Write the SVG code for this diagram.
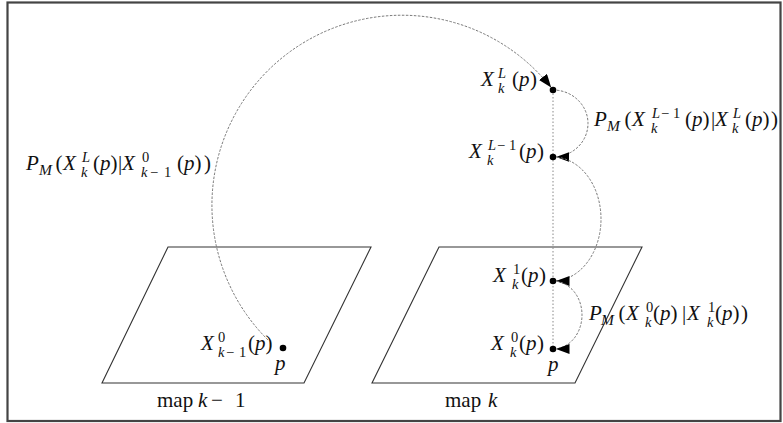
<svg xmlns="http://www.w3.org/2000/svg" width="783" height="423" viewBox="0 0 783 423">
<style>
.frame{fill:none;stroke:#444;stroke-width:2.2}
.map{fill:none;stroke:#333;stroke-width:1.1}
.arc{fill:none;stroke:#777;stroke-width:1;stroke-dasharray:2.5 1.5}
.vline{fill:none;stroke:#888;stroke-width:1;stroke-dasharray:1.5 2}
.dot{fill:#000}
.t{font-family:"Liberation Serif","Times New Roman","DejaVu Serif",serif;font-size:21px;fill:#111}
.i{font-style:italic}
.s{font-size:14.5px}
.m{font-size:15.5px;font-style:italic}
</style>
<defs>
<marker id="ah" viewBox="0 0 17 10" refX="16.5" refY="5" markerWidth="17" markerHeight="10" markerUnits="userSpaceOnUse" orient="auto">
<path d="M0,0 L13.5,5 L0,10 z" fill="#000"/>
</marker>
</defs>
<rect class="frame" x="7.5" y="2.5" width="773" height="418.5"/>

<g id="map-k-1">
<polygon class="map" points="168,247 371,247 304,383 102,383"/>
<text class="t"><tspan x="157" y="407">map </tspan><tspan class="i" x="198" y="407">k</tspan><tspan x="211" y="407">−</tspan><tspan x="235" y="407">1</tspan></text>
</g>
<g id="map-k">
<polygon class="map" points="439,247 642,247 575,383 372,383"/>
<text class="t"><tspan x="445" y="407">map </tspan><tspan class="i" x="488" y="407">k</tspan></text>
</g>

<g id="connectors">
<line class="vline" x1="553" y1="90" x2="553" y2="349"/>
<path class="arc" d="M268,340 A190,190 0 1 1 553,90" marker-end="url(#ah)"/>
<path class="arc" d="M553,90 A35,33.5 0 0 1 553,157" marker-end="url(#ah)"/>
<path class="arc" d="M553,157 A48,62 0 0 1 553,281" marker-end="url(#ah)"/>
<path class="arc" d="M553,281 A29,34 0 0 1 553,349" marker-end="url(#ah)"/>
</g>

<g id="node-prev">
<circle class="dot" cx="283" cy="348" r="3.3"/>
<text class="t"><tspan class="i" x="201" y="350">X</tspan><tspan class="s" x="218" y="342">0</tspan><tspan class="s i" x="218" y="357">k</tspan><tspan class="s" x="226" y="357">−</tspan><tspan class="s" x="239" y="357">1</tspan><tspan x="248" y="350">(</tspan><tspan class="i" x="255" y="350">p</tspan><tspan x="265.5" y="350">)</tspan></text>
<text class="t i" x="275" y="370">p</text>
</g>

<g id="node-XL">
<circle class="dot" cx="553" cy="90" r="3.3"/>
<text class="t"><tspan class="i" x="481" y="86">X</tspan><tspan class="s i" x="498" y="78">L</tspan><tspan class="s i" x="498" y="93">k</tspan><tspan x="512" y="86">(</tspan><tspan class="i" x="519" y="86">p</tspan><tspan x="530" y="86">)</tspan></text>
</g>

<g id="node-XL-1">
<circle class="dot" cx="553" cy="157" r="3.3"/>
<text class="t"><tspan class="i" x="469" y="158">X</tspan><tspan class="s i" x="488" y="150">L</tspan><tspan class="s" x="497" y="150">−</tspan><tspan class="s" x="509" y="150">1</tspan><tspan class="s i" x="487" y="165">k</tspan><tspan x="519" y="158">(</tspan><tspan class="i" x="526" y="158">p</tspan><tspan x="537" y="158">)</tspan></text>
</g>

<g id="node-X1">
<circle class="dot" cx="553" cy="281" r="3.3"/>
<text class="t"><tspan class="i" x="493" y="282">X</tspan><tspan class="s" x="513" y="274">1</tspan><tspan class="s i" x="512" y="289">k</tspan><tspan x="521" y="282">(</tspan><tspan class="i" x="528" y="282">p</tspan><tspan x="539" y="282">)</tspan></text>
</g>

<g id="node-X0">
<circle class="dot" cx="553" cy="349" r="3.3"/>
<text class="t"><tspan class="i" x="491" y="350">X</tspan><tspan class="s" x="511" y="342">0</tspan><tspan class="s i" x="510" y="357">k</tspan><tspan x="519" y="350">(</tspan><tspan class="i" x="526" y="350">p</tspan><tspan x="537" y="350">)</tspan></text>
<text class="t i" x="548" y="371">p</text>
</g>

<g id="edge-labels">
<text class="t"><tspan class="i" x="26" y="170">P</tspan><tspan class="m" x="39" y="175">M</tspan><tspan x="55.5" y="170">(</tspan><tspan class="i" x="63" y="170">X</tspan><tspan class="s i" x="82" y="162">L</tspan><tspan class="s i" x="81" y="177">k</tspan><tspan x="93" y="170">(</tspan><tspan class="i" x="100" y="170">p</tspan><tspan x="110.5" y="170">)</tspan><tspan x="118" y="170">|</tspan><tspan class="i" x="122" y="170">X</tspan><tspan class="s" x="142" y="162">0</tspan><tspan class="s i" x="141" y="177">k</tspan><tspan class="s" x="150" y="177">−</tspan><tspan class="s" x="164" y="177">1</tspan><tspan x="177" y="170">(</tspan><tspan class="i" x="184" y="170">p</tspan><tspan x="194.5" y="170">)</tspan><tspan x="204" y="170">)</tspan></text>

<text class="t"><tspan class="i" x="594" y="126">P</tspan><tspan class="m" x="607" y="131">M</tspan><tspan x="624.5" y="126">(</tspan><tspan class="i" x="632" y="126">X</tspan><tspan class="s i" x="652" y="118">L</tspan><tspan class="s" x="661" y="118">−</tspan><tspan class="s" x="673" y="118">1</tspan><tspan class="s i" x="651" y="133">k</tspan><tspan x="685" y="126">(</tspan><tspan class="i" x="692" y="126">p</tspan><tspan x="702.5" y="126">)</tspan><tspan x="711" y="126">|</tspan><tspan class="i" x="715" y="126">X</tspan><tspan class="s i" x="733" y="118">L</tspan><tspan class="s i" x="732" y="133">k</tspan><tspan x="745" y="126">(</tspan><tspan class="i" x="752" y="126">p</tspan><tspan x="762.5" y="126">)</tspan><tspan x="771" y="126">)</tspan></text>

<text class="t"><tspan class="i" x="589" y="320">P</tspan><tspan class="m" x="601" y="325">M</tspan><tspan x="618.5" y="320">(</tspan><tspan class="i" x="626" y="320">X</tspan><tspan class="s" x="646" y="312">0</tspan><tspan class="s i" x="645" y="327">k</tspan><tspan x="653" y="320">(</tspan><tspan class="i" x="660" y="320">p</tspan><tspan x="670.5" y="320">)</tspan><tspan x="682" y="320">|</tspan><tspan class="i" x="687" y="320">X</tspan><tspan class="s" x="708" y="312">1</tspan><tspan class="s i" x="707" y="327">k</tspan><tspan x="715" y="320">(</tspan><tspan class="i" x="722" y="320">p</tspan><tspan x="732.5" y="320">)</tspan><tspan x="741" y="320">)</tspan></text>
</g>
</svg>
